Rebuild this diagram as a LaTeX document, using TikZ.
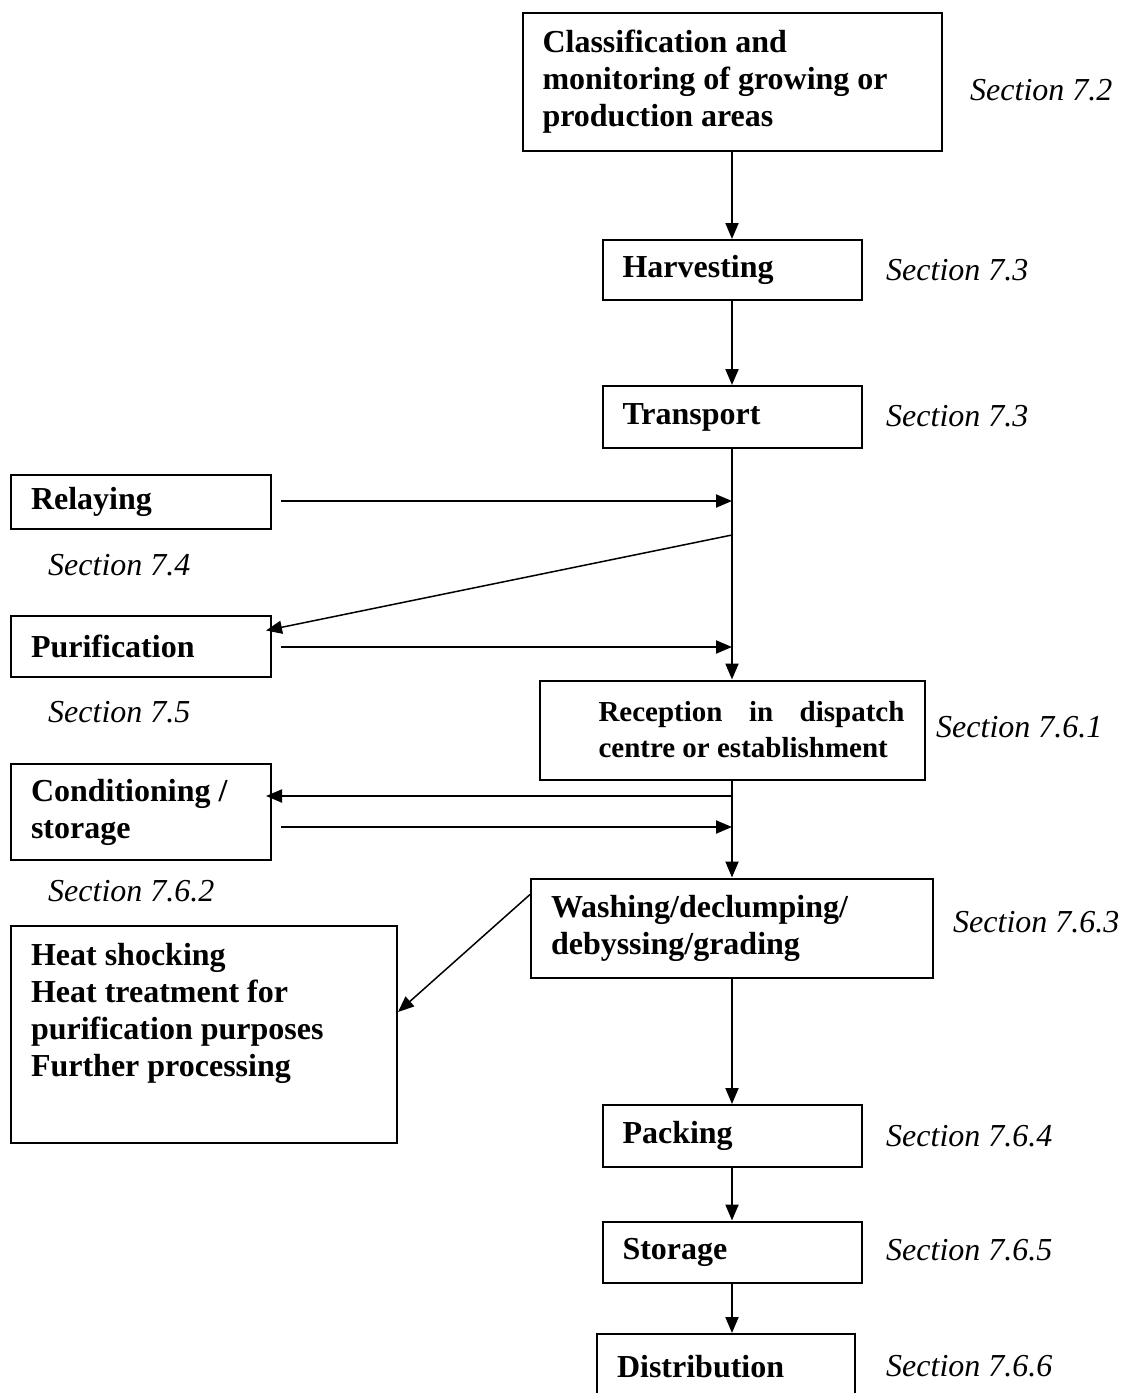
\documentclass[tikz,border=0pt]{standalone}
\usepackage{fontspec}
\setmainfont{Liberation Serif}
\usetikzlibrary{arrows.meta}

\begin{document}
\fontsize{32}{37}\selectfont
\begin{tikzpicture}[x=1pt,y=-1pt,
        stepbox/.style={draw, line width=2pt, font=\bfseries, align=flush left, inner xsep=20pt, inner ysep=0pt},
        sect/.style={anchor=west, font=\itshape, inner sep=0pt},
        flow/.style={-{Triangle[length=16pt,width=13pt]}, line width=2pt}]
        \clip (0,0) rectangle (1129,1393);

        % main column
        \node[stepbox, text width=379pt, minimum height=138pt] (classif) at (732,82) {Classification and\\monitoring of growing or\\production areas};
        \node[stepbox, text width=219pt, minimum height=60pt] (harvest) at (732,270) {Harvesting};
        \node[stepbox, text width=219pt, minimum height=62pt] (trans) at (732,417) {Transport};
        \node[stepbox, text width=345pt, minimum height=99pt, font=\bfseries\fontsize{29}{36}\selectfont] (recep) at (732,730) {\hspace*{39pt}\makebox[306pt][l]{Reception\hfill in\hfill dispatch}\\\hspace*{39pt}centre or establishment};
        \node[stepbox, text width=362pt, minimum height=99pt] (wash) at (732,928) {Washing/declumping/\\debyssing/grading};
        \node[stepbox, text width=219pt, minimum height=62pt] (pack) at (732,1136) {Packing};
        \node[stepbox, text width=219pt, minimum height=61pt] (store) at (732,1252) {Storage};
        \node[stepbox, text width=218pt, minimum height=66pt] (dist) at (726,1367) {Distribution};

        % side boxes
        \node[stepbox, text width=220pt, minimum height=54pt] (relay) at (141,502) {Relaying};
        \node[stepbox, text width=220pt, minimum height=61pt] (purif) at (141,646) {Purification};
        \node[stepbox, text width=220pt, minimum height=96pt] (cond) at (141,812) {Conditioning /\\storage};
        \node[stepbox, text width=346pt, minimum height=217pt] (heat) at (204,1034) {Heat shocking\\Heat treatment for\\purification purposes\\Further processing\\\strut};

        % section labels
        \node[sect] (s72) at (970,90) {Section 7.2};
        \node[sect] (s73a) at (886,270) {Section 7.3};
        \node[sect] (s73b) at (886,416) {Section 7.3};
        \node[sect] (s74) at (48,565) {Section 7.4};
        \node[sect] (s75) at (48,712) {Section 7.5};
        \node[sect] (s761) at (936,727) {Section 7.6.1};
        \node[sect] (s762) at (48,891) {Section 7.6.2};
        \node[sect] (s763) at (953,922) {Section 7.6.3};
        \node[sect] (s764) at (886,1136) {Section 7.6.4};
        \node[sect] (s765) at (886,1250) {Section 7.6.5};
        \node[sect] (s766) at (886,1366) {Section 7.6.6};

        \coordinate (jrel) at (732,501);
        \coordinate (jdiag) at (732,535);
        \coordinate (jpur) at (732,647);
        \coordinate (jcon1) at (732,796);
        \coordinate (jcon2) at (732,827);

        \draw[flow] (classif) -- (harvest);
        \draw[flow] (harvest) -- (trans);
        \draw[flow] (trans) -- (recep);
        \draw[flow] (recep) -- (wash);
        \draw[flow] (wash) -- (pack);
        \draw[flow] (pack) -- (store);
        \draw[flow] (store.south) -- (store.south |- dist.north);

        \draw[flow, shorten <=9pt] (relay.east |- jrel) -- (jrel);
        \draw[flow, line width=1.5pt] (jdiag) -- ([xshift=-6pt,yshift=-16pt]purif.north east);
        \draw[flow, shorten <=9pt] (purif.east |- jpur) -- (jpur);
        \draw[flow] (jcon1) -- ([xshift=-6pt]jcon1 -| cond.east);
        \draw[flow, shorten <=9pt] (cond.east |- jcon2) -- (jcon2);
        \draw[flow, line width=1.5pt] ([yshift=-17pt]wash.north west) -- ([yshift=22pt]heat.east);

    \end{tikzpicture}
\end{document}
